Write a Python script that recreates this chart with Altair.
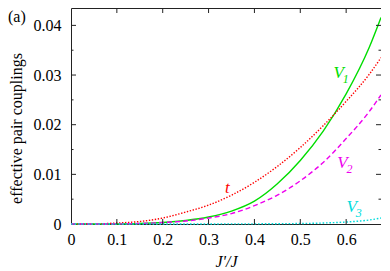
import altair as alt
import pandas as pd

# ---- data ----
x_grid = [0, 0.05, 0.10, 0.15, 0.20, 0.25, 0.30, 0.35, 0.40, 0.45, 0.50, 0.55, 0.60, 0.65, 0.676]
v1_vals = [0, 0, 0.00002, 0.0001, 0.0003, 0.0007, 0.0014, 0.0026, 0.0046, 0.0081, 0.0128, 0.0187, 0.0262, 0.0355, 0.0416]
t_vals = [0, 0.00002, 0.0002, 0.0005, 0.0012, 0.0024, 0.0038, 0.0058, 0.0084, 0.0116, 0.0154, 0.0198, 0.0247, 0.0301, 0.0335]
v2_vals = [0, 0, 0.00002, 0.0001, 0.0003, 0.0006, 0.0012, 0.0021, 0.0037, 0.0058, 0.0087, 0.0124, 0.0172, 0.0226, 0.0260]
v3_vals = [0, 0, 0, 0, 0, 0, 0.00001, 0.00002, 0.00003, 0.00006, 0.0001, 0.0002, 0.0004, 0.0008, 0.0012]

x_ticks = [0, 0.1, 0.2, 0.3, 0.4, 0.5, 0.6]
y_ticks = [0, 0.01, 0.02, 0.03, 0.04]
y_minor = [0.005, 0.015, 0.025, 0.035]

label_letters = ["V", "t", "V", "V"]
label_subs = ["1", "", "2", "3"]
label_x = [0.5836, 0.341, 0.592, 0.6123]
label_y = [0.03035, 0.0073, 0.01232, 0.00338]

GREEN = "#00dd00"
RED = "#ff0000"
MAGENTA = "#ee00ee"
CYAN = "#00dddd"
label_colors = [GREEN, RED, MAGENTA, CYAN]

W = 310
H = 216
FONT = "'Liberation Serif', 'Times New Roman', 'DejaVu Serif', serif"
FRAME = "#222222"

xs = alt.Scale(domain=[0, 0.676], nice=False, zero=False)
ys = alt.Scale(domain=[0, 0.0435], nice=False, zero=False)

XAX = alt.Axis(
    values=x_ticks, format=".1~f", title="J'/J", ticks=False, domain=False,
    grid=False, labelFlush=False, labelPadding=7, labelFontSize=16,
    labelFont=FONT, labelColor="black", titleFont=FONT, titleFontSize=16,
    titleFontStyle="italic", titleFontWeight="normal", titleColor="black",
    titleBaseline="middle", titleY=37)
YAX = alt.Axis(
    values=y_ticks, format="~g", title="effective pair couplings", ticks=False,
    domain=False, grid=False, labelPadding=10, labelFontSize=16, labelFont=FONT,
    labelColor="black", titleFont=FONT, titleFontSize=16,
    titleFontWeight="normal", titleColor="black", titleAngle=270,
    titleAlign="center", titleBaseline="middle", titleX=-55, titleY=120)


def X(f):
    return alt.X(f, scale=xs, axis=XAX)


def Y(f):
    return alt.Y(f, scale=ys, axis=YAX)


def line_layer(vals, color, dash):
    df = pd.DataFrame({"x": x_grid, "y": vals})
    mk = dict(color=color, strokeWidth=1.4, interpolate="monotone")
    if dash:
        mk["strokeDash"] = dash
    return alt.Chart(df).mark_line(**mk).encode(x=X("x:Q"), y=Y("y:Q"))


lines = [
    line_layer(v1_vals, GREEN, None),
    line_layer(t_vals, RED, [1.4, 1.6]),
    line_layer(v2_vals, MAGENTA, [5, 3]),
    line_layer(v3_vals, CYAN, [1.6, 1.8]),
]

xt = pd.DataFrame({"x": x_ticks[1:]})
ytm = pd.DataFrame({"y": y_ticks[1:]})
ytn = pd.DataFrame({"y": y_minor})

tick_layers = [
    alt.Chart(xt).mark_rule(color=FRAME).encode(
        x=X("x:Q"), y=alt.value(H), y2=alt.value(H - 5)),
    alt.Chart(xt).mark_rule(color=FRAME).encode(
        x=X("x:Q"), y=alt.value(0), y2=alt.value(5)),
    alt.Chart(ytm).mark_rule(color=FRAME).encode(
        y=Y("y:Q"), x=alt.value(0), x2=alt.value(5)),
    alt.Chart(ytm).mark_rule(color=FRAME).encode(
        y=Y("y:Q"), x=alt.value(W), x2=alt.value(W - 5)),
    alt.Chart(ytn).mark_rule(color=FRAME).encode(
        y=Y("y:Q"), x=alt.value(0), x2=alt.value(2.5)),
    alt.Chart(ytn).mark_rule(color=FRAME).encode(
        y=Y("y:Q"), x=alt.value(W), x2=alt.value(W - 2.5)),
]

lab = pd.DataFrame({"x": label_x, "y": label_y, "letter": label_letters,
                    "sub": label_subs, "c": label_colors})
letters = alt.Chart(lab).mark_text(
    font=FONT, fontSize=17, fontStyle="italic", align="center", baseline="middle"
).encode(x=X("x:Q"), y=Y("y:Q"),
         text="letter:N", color=alt.Color("c:N", scale=None))
subs = alt.Chart(lab).mark_text(
    font=FONT, fontSize=12, fontStyle="italic", align="center", baseline="middle",
    dx=7, dy=6
).encode(x=X("x:Q"), y=Y("y:Q"),
         text="sub:N", color=alt.Color("c:N", scale=None))

panel = alt.Chart(pd.DataFrame({"s": ["(a)"]})).mark_text(
    font=FONT, fontSize=16, align="left", baseline="top", color="black"
).encode(text="s:N", x=alt.value(-63), y=alt.value(1))

chart = alt.layer(*lines, *tick_layers, letters, subs, panel).properties(
    width=W, height=H,
    autosize=alt.AutoSizeParams(type="none"),
    padding={"left": 63, "top": 0, "right": 0, "bottom": 47},
).configure_view(stroke=FRAME, strokeWidth=1)

chart.save("out.html", embed_options={"renderer": "svg", "actions": False})
